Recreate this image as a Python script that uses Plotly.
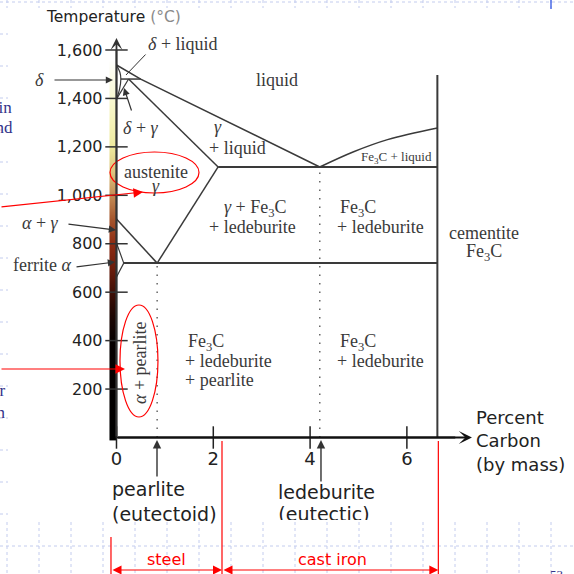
import plotly.graph_objects as go

# ---------------- axis ticks ----------------
x_ticks = [0, 2, 4, 6]
x_tick_text = ["0", "2", "4", "6"]
y_ticks = [200, 400, 600, 800, 1000, 1200, 1400, 1600]
y_tick_text = ["200", "400", "600", "800", "1,000", "1,200", "1,400", "1,600"]

# ---------------- phase boundaries (wt% C, °C) ----------------
liquidus_C = [0.0, 0.5, 4.2]
liquidus_T = [1538, 1480, 1117]
cem_liquidus_C = [4.2, 4.9, 5.6, 6.63]
cem_liquidus_T = [1117, 1180, 1230, 1278]
gamma_solidus_C = [0.25, 2.1]
gamma_solidus_T = [1480, 1117]
peritectic_C = [0.09, 0.5]
peritectic_T = [1480, 1480]
delta_C = [0.0, 0.07, 0.09, 0.06, 0.0]
delta_T = [1538, 1508, 1480, 1435, 1397]
delta_gamma_C = [0.0, 0.25]
delta_gamma_T = [1397, 1480]
a3_C = [0.0, 0.84]
a3_T = [902, 720]
acm_C = [0.84, 2.1]
acm_T = [720, 1117]
ferrite_C = [0.0, 0.15, 0.0]
ferrite_T = [803, 720, 663]
eutectoid_C = [0.15, 6.63]
eutectoid_T = [720, 720]
eutectic_C = [2.1, 6.63]
eutectic_T = [1117, 1117]
cementite_C = [6.63, 6.63]
cementite_T = [0, 1497]
eutectoid_drop_C = [0.84, 0.84]
eutectoid_drop_T = [0, 720]
eutectic_drop_C = [4.2, 4.2]
eutectic_drop_T = [0, 1117]

# temperature colour strip (°C -> colour)
strip_T = [0, 20, 400, 500, 600, 700, 800, 900, 1000, 1100, 1200, 1300, 1400, 1500, 1560]
strip_colors = ["#000000", "#000000", "#060000", "#1c0603", "#3e0f06", "#6c1d0c", "#8e2c13",
                "#a4552c", "#c48c56", "#ddc57e", "#eeea9e", "#f4f2b8", "#f8f8d2",
                "#fcfcec", "#ffffff"]

X_RANGE = [-2.407, 9.453]
Y_RANGE = [-563.6, 1806.4]
W = H = 574

LINE = "#3a3a3a"
TXT = "#3a3a3a"
SERIF = "Liberation Serif"
SANS = "DejaVu Sans"
RED = "#ff0000"

fig = go.Figure()

# colour strip
cs = [[t / strip_T[-1], c] for t, c in zip(strip_T, strip_colors)]
fig.add_trace(go.Heatmap(x=[-0.11, -0.04], y=strip_T, z=[[t, t] for t in strip_T],
                         colorscale=cs, zmin=0, zmax=strip_T[-1], zsmooth="best",
                         showscale=False, hoverinfo="skip"))

def boundary(cx, ty, dash="solid", color=LINE, width=1.5, shape="linear"):
    fig.add_trace(go.Scatter(x=cx, y=ty, mode="lines", hoverinfo="skip",
                             line=dict(color=color, width=width, dash=dash, shape=shape)))

boundary(liquidus_C, liquidus_T)
boundary(cem_liquidus_C, cem_liquidus_T, shape="spline")
boundary(gamma_solidus_C, gamma_solidus_T)
boundary(peritectic_C, peritectic_T)
boundary(delta_C, delta_T, shape="spline", width=1.2)
boundary(delta_gamma_C, delta_gamma_T, width=1.2)
boundary(a3_C, a3_T)
boundary(acm_C, acm_T)
boundary(ferrite_C, ferrite_T, width=1.2)
boundary(eutectoid_C, eutectoid_T, width=2)
boundary(eutectic_C, eutectic_T, width=2)
boundary(cementite_C, cementite_T, width=2)
boundary(eutectoid_drop_C, eutectoid_drop_T, dash="1.5px,7px", color="#666", width=1.5)
boundary(eutectic_drop_C, eutectic_drop_T, dash="1.5px,7px", color="#666", width=1.5)

# axis lines
fig.add_trace(go.Scatter(x=[0, 0], y=[0, 1600], mode="lines", hoverinfo="skip",
                         line=dict(color="#333", width=1.8)))
fig.add_trace(go.Scatter(x=[0, 7.0], y=[0, 0], mode="lines", hoverinfo="skip",
                         line=dict(color="#111", width=2)))
# crossing tick marks
fig.add_trace(go.Scatter(x=x_ticks, y=[0] * len(x_ticks), mode="markers", hoverinfo="skip",
                         marker=dict(symbol="line-ns-open", size=16, color="#222",
                                     line=dict(color="#222", width=1.5))))
fig.add_trace(go.Scatter(x=[0] * len(y_ticks), y=y_ticks, mode="markers", hoverinfo="skip",
                         marker=dict(symbol="line-ew-open", size=16, color="#333",
                                     line=dict(color="#333", width=1.5))))
# clipped "(eutectic)" label as trace text
fig.add_trace(go.Scatter(x=[4.287], y=[-326], mode="text", text=["(eutectic)"],
                         textfont=dict(family=SANS, size=19, color="#222"),
                         hoverinfo="skip"))

ann = []

def label(text, x, y, size=18, family=SERIF, color=TXT, xanchor="center", **kw):
    ann.append(dict(text=text, x=x, y=y, xref="x", yref="y", showarrow=False,
                    font=dict(family=family, size=size, color=color),
                    xanchor=xanchor, yanchor="middle", **kw))

def arrow(x, y, ax, ay, color="#333", width=1.2, head=2, size=1.2, **kw):
    ann.append(dict(text="", x=x, y=y, ax=ax, ay=ay, xref="x", yref="y",
                    axref="x", ayref="y", showarrow=True, arrowhead=head,
                    arrowsize=size, arrowwidth=width, arrowcolor=color, **kw))

# axis arrowheads
arrow(7.345, 0, 0, 0, color="#111", width=2, head=3, size=1.1)
arrow(0, 1649, 0, 0, color="#333", width=1.8, head=3, size=1.1)

# diagram labels
label("<i>δ</i> + liquid", 1.374, 1624.7)
arrow(0.196, 1496.7, 0.630, 1587.5, head=0, width=1)
label("<i>δ</i>", -1.581, 1476.1)
arrow(-0.072, 1476.1, -1.312, 1476.1)
label("liquid", 3.316, 1476)
label("<i>δ</i> + <i>γ</i>", 0.506, 1277.9)
arrow(0.155, 1443.0, 0.320, 1343.9)
label("<i>γ</i>", 2.097, 1282)
label("+ liquid", 2.49, 1195.3)
label("austenite", 0.816, 1096.2)
label("<i>γ</i>", 0.816, 1038.4)
label("Fe<sub>3</sub>C + liquid", 5.795, 1158.1, size=13)
label("<i>γ</i> + Fe<sub>3</sub>C", 2.882, 947.5)
label("+ ledeburite", 2.82, 869.1)
label("Fe<sub>3</sub>C", 4.99, 947.5)
label("+ ledeburite", 5.465, 869.1)
label("cementite", 7.593, 844.3)
label("Fe<sub>3</sub>C", 7.593, 765.9)
label("<i>α</i> + <i>γ</i>", -1.56, 885.6)
arrow(-0.010, 856.7, -1.023, 881.5)
label("ferrite <i>α</i>", -1.539, 712.2)
arrow(-0.031, 724.6, -0.857, 704.0)
label("<i>α</i> + pearlite", 0.486, 307.6, textangle=-90)
label("Fe<sub>3</sub>C", 1.43, 394.3, xanchor="left")
label("+ ledeburite", 1.37, 315.8, xanchor="left")
label("+ pearlite", 1.37, 237.4, xanchor="left")
label("Fe<sub>3</sub>C", 4.99, 394.3)
label("+ ledeburite", 5.465, 315.8)

# axis titles / annotations
label("Temperature <span style='color:#8a8a8a'>(°C)</span>", -1.50, 1736.2,
      size=15.5, family=SANS, color="#222", xanchor="left")
label("Percent<br>Carbon<br>(by mass)", 7.39, -14.5, size=18, family=SANS,
      color="#222", xanchor="left", align="left")
label("pearlite<br>(eutectoid)", -0.13, -264.2, size=19, family=SANS,
      color="#222", xanchor="left", align="left")
label("ledeburite", 4.329, -225.0, size=19, family=SANS, color="#222")
arrow(0.837, -10.3, 0.837, -167.2, width=1.4)
arrow(4.225, -10.3, 4.225, -187.9, width=1.4)

# red slide annotations
arrow(0.548, 1013.6, -2.407, 951.7, color=RED, width=1.2, head=2, size=1.6)
arrow(0.176, 282.8, -2.407, 282.8, color=RED, width=1.2, head=2, size=1.6)
arrow(2.18, -547.1, -0.114, -547.1, color=RED, width=1.2, head=2, size=1.5,
      arrowside="end+start", startarrowhead=2, startarrowsize=1.5)
arrow(6.65, -547.1, 2.18, -547.1, color=RED, width=1.2, head=2, size=1.5,
      arrowside="end+start", startarrowhead=2, startarrowsize=1.5)
label("steel", 1.043, -501.7, size=16, family=SANS, color=RED)
label("cast iron", 4.473, -501.7, size=16, family=SANS, color=RED)

# slide text fragments at left edge and page number
def ptext(text, px, py, size=17, color="#33338a", xanchor="right", yanchor="middle"):
    ann.append(dict(text=text, x=px / W, y=1 - py / H, xref="paper", yref="paper",
                    showarrow=False, xanchor=xanchor, yanchor=yanchor,
                    font=dict(family=SERIF, size=size, color=color)))

ptext("ain", 14, 107)
ptext("and", 15, 128)
ptext("ar", 8, 390)
ptext("an", 8, 412)
ptext("53", 556, 565, size=13, xanchor="center", yanchor="top")

shapes = []
shapes.append(dict(type="circle", xref="x", yref="y", x0=-0.134, x1=1.705, y0=1009.5,
                   y1=1178.8, line=dict(color=RED, width=1.2)))
shapes.append(dict(type="circle", xref="x", yref="y", x0=0.072, x1=0.857, y0=84.6,
                   y1=547.1, line=dict(color=RED, width=1.2)))

# slide image edge (clips the lower label), then slide grid
def pl(x0, y0, x1, y1, color="#c3ccee", width=1, dash="3px,3px", layer="above"):
    shapes.append(dict(type="line", xref="paper", yref="paper", x0=x0 / W, x1=x1 / W,
                       y0=1 - y0 / H, y1=1 - y1 / H, layer=layer,
                       line=dict(color=color, width=width, dash=dash)))

shapes.append(dict(type="rect", xref="paper", yref="paper", x0=265 / W, x1=395 / W, y0=0,
                   y1=1 - 520 / H, fillcolor="white", line=dict(width=0), layer="above"))
grid_x = [7 + 32 * k for k in range(18)]
for gx in grid_x:
    pl(gx, 522, gx, 574)
    pl(gx, 0, gx, 8)
pl(0, 546, 574, 546)
pl(0, 2, 574, 2)
for gy in range(34, 522, 32):
    pl(0, gy, 8, gy)
pl(551, 0, 551, 9, color="#4a6ae6", width=1.5, dash="solid")

# red dimension lines
for cx, top in [(-0.114, -410.8), (2.18, -14.5), (6.65, -14.5)]:
    shapes.append(dict(type="line", xref="x", yref="y", x0=cx, x1=cx, y0=top, y1=-563.6,
                       line=dict(color=RED, width=1.2), layer="above"))

fig.update_layout(
    width=W, height=H, margin=dict(l=0, r=0, t=0, b=0),
    paper_bgcolor="white", plot_bgcolor="white", showlegend=False,
    annotations=ann, shapes=shapes,
    xaxis=dict(range=X_RANGE, domain=[0, 1], anchor="free", position=1 - 437.5 / H,
               showgrid=False, zeroline=False, showline=False, ticks="",
               tickvals=x_ticks, ticktext=x_tick_text, ticklabelstandoff=8,
               tickfont=dict(family=SANS, size=18, color="#222")),
    yaxis=dict(range=Y_RANGE, domain=[0, 1], anchor="free", position=116.5 / W,
               showgrid=False, zeroline=False, showline=False, ticks="",
               tickvals=y_ticks, ticktext=y_tick_text, ticklabelstandoff=14,
               tickfont=dict(family=SANS, size=16, color="#222")),
)

fig.write_html("out.html", config={"displayModeBar": False},
               post_script="document.body.style.margin='0px';"
                           "document.documentElement.style.overflow='hidden';")
